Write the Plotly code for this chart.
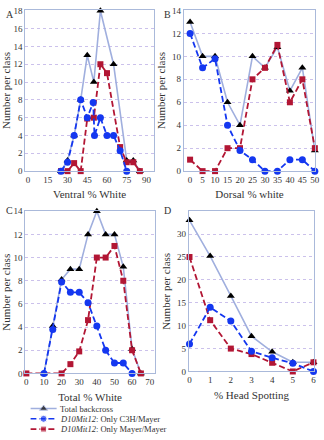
import plotly.graph_objects as go

# ---------------- data ----------------
# Panel A: Ventral % White
a_total_x = [25, 30, 35, 40, 45, 50, 55, 65, 75, 80, 85]
a_total_y = [0, 1.2, 4, 8, 13, 10, 18, 12, 1.2, 1.2, 0]
a_c3h_x = [25, 30, 35, 40, 45, 49.5, 50.5, 55, 60, 65, 70, 75]
a_c3h_y = [0, 1, 4, 8, 6, 7.7, 4, 6, 4, 4, 2.3, 0]
a_may_x = [25, 30, 35, 40, 45, 50, 55, 60, 70, 75, 80, 85]
a_may_y = [0, 0, 0.9, 0, 5.9, 6, 12, 11, 2.7, 1, 1, 0]

# Panel B: Dorsal % white
b_x = [0, 5, 10, 15, 20, 25, 30, 35, 40, 45, 50]
b_total = [13, 10, 10, 6, 4, 10, 9, 10.8, 7, 9, 1.8]
b_c3h = [12, 9, 9.8, 4, 1.8, 1, 0, 0, 1, 1, 0]
b_may = [1, 0, 0, 2, 2, 8, 9, 11, 6, 8, 2]

# Panel C: Total % White
c_total_x = [10, 15, 20, 25, 30, 35, 40, 45, 50, 55, 60, 65]
c_total_y = [0, 4.1, 8.1, 9, 9, 12, 14, 12, 12, 9.2, 2.1, 0]
c_c3h_x = [10, 15, 20, 25, 30, 35, 40, 45, 50, 55, 60]
c_c3h_y = [0, 3.8, 7.9, 7, 7, 6.1, 4.1, 2, 0.9, 0.9, 0]
c_may_x = [0, 20, 25, 30, 35, 40, 45, 50, 55, 60, 65]
c_may_y = [0, 0, 0.8, 1.9, 4.6, 10, 10, 11, 8, 2, 0]

# Panel D: % Head Spotting
d_x = [0, 1, 2, 3, 4, 5, 6]
d_total = [33, 25.2, 16.5, 7.7, 4.3, 2, 2]
d_c3h = [6, 14, 11, 4.4, 3, 1.8, 0]
d_may = [25, 11.2, 5, 3.8, 1.9, 0, 2]

# ticks
a_xticks = [0, 15, 30, 45, 60, 75, 90]
a_yticks = [0, 2, 4, 6, 8, 10, 12, 14, 16, 18]
b_xticks = [0, 5, 10, 15, 20, 25, 30, 35, 40, 45, 50]
b_yticks = [0, 2, 4, 6, 8, 10, 12, 14]
c_xticks = [0, 10, 20, 30, 40, 50, 60, 70]
c_yticks = [0, 2, 4, 6, 8, 10, 12, 14]
d_xticks = [0, 1, 2, 3, 4, 5, 6]
d_yticks = [0, 5, 10, 15, 20, 25, 30]

legend_names = ["Total backcross",
                "<i>D10Mit12</i>: Only C3H/Mayer",
                "<i>D10Mit12</i>: Only Mayer/Mayer"]

# ---------------- styles ----------------
W, H = 324, 440
FONT = "Liberation Serif"
TOTAL_C = "rgb(160,175,222)"
C3H_C = "rgb(20,55,240)"
MAY_C = "rgb(178,22,52)"
BOX_C = "rgb(170,185,218)"
GRID_C = "rgba(175,160,225,0.65)"


def px_x(p):
    return p / W


def px_y(p):
    return 1 - p / H


fig = go.Figure()


def add_panel(n, tx, ty, cx, cy, mx, my):
    xa, ya = f"x{n}", f"y{n}"
    fig.add_trace(go.Scatter(x=tx, y=ty, mode="lines+markers", xaxis=xa, yaxis=ya,
                             line=dict(color=TOTAL_C, width=1.6),
                             marker=dict(symbol="triangle-up", size=7, color="black"),
                             cliponaxis=False, showlegend=False))
    fig.add_trace(go.Scatter(x=mx, y=my, mode="lines+markers", xaxis=xa, yaxis=ya,
                             line=dict(color=MAY_C, width=1.8, dash="6px,3px"),
                             marker=dict(symbol="square", size=6, color=MAY_C),
                             cliponaxis=False, showlegend=False))
    fig.add_trace(go.Scatter(x=cx, y=cy, mode="lines+markers", xaxis=xa, yaxis=ya,
                             line=dict(color=C3H_C, width=1.8, dash="6px,3px"),
                             marker=dict(symbol="circle", size=7, color=C3H_C),
                             cliponaxis=False, showlegend=False))


add_panel(1, a_total_x, a_total_y, a_c3h_x, a_c3h_y, a_may_x, a_may_y)
add_panel(2, b_x, b_total, b_x, b_c3h, b_x, b_may)
add_panel(3, c_total_x, c_total_y, c_c3h_x, c_c3h_y, c_may_x, c_may_y)
add_panel(4, d_x, d_total, d_x, d_c3h, d_x, d_may)

tickfont = dict(family=FONT, size=9, color="#333")
titlefont = dict(family=FONT, size=11, color="#333")


def xaxis(dom, rng, ticks, title, anchor):
    return dict(domain=dom, range=rng, tickvals=ticks, tickfont=tickfont,
                showgrid=False, zeroline=False, showline=True, linecolor=BOX_C,
                linewidth=1.2, mirror=True, anchor=anchor, ticks="",
                title=dict(text=title, font=titlefont, standoff=6))


def yaxis(dom, rng, ticks, anchor):
    return dict(domain=dom, range=rng, tickvals=ticks, tickfont=tickfont,
                showgrid=True, gridcolor=GRID_C, griddash="dot", gridwidth=0.8,
                zeroline=False, showline=True, linecolor=BOX_C, linewidth=1.2,
                mirror=True, anchor=anchor, ticks="",
                title=dict(text="Number per class", font=titlefont, standoff=4))


top_dom = [px_y(170), px_y(5)]
bot_dom_c = [px_y(377), px_y(211)]
bot_dom_d = [px_y(375), px_y(211)]

fig.update_layout(
    xaxis=xaxis([px_x(24), px_x(155)], [-2, 95.5], a_xticks, "Ventral % White", "y"),
    yaxis=yaxis(top_dom, [0, 18.1], a_yticks, "x"),
    xaxis2=xaxis([px_x(186), px_x(320)], [-2.45, 50.1], b_xticks, "Dorsal % white", "y2"),
    yaxis2=yaxis(top_dom, [0, 14.05], b_yticks, "x2"),
    xaxis3=xaxis([px_x(24), px_x(156)], [-0.5, 72.8], c_xticks, "Total % White", "y3"),
    yaxis3=yaxis(bot_dom_c, [0, 14], c_yticks, "x3"),
    xaxis4=xaxis([px_x(191), px_x(319)], [-0.03, 6.03], d_xticks, "% Head Spotting", "y4"),
    yaxis4=yaxis(bot_dom_d, [0, 35], d_yticks, "x4"),
    xaxis5=dict(domain=[px_x(29), px_x(56)], range=[0, 1], visible=False, anchor="y5"),
    yaxis5=dict(domain=[px_y(439.2), px_y(407.7)], range=[3.5, 0.5], visible=False, anchor="x5"),
)

# legend drawn in its own small axis
leg_styles = [
    (TOTAL_C, "solid", "triangle-up", "black", 7),
    (C3H_C, "6px,3px", "circle", C3H_C, 7),
    (MAY_C, "6px,3px", "square", MAY_C, 6),
]
for i, (name, (lc, dash, sym, mc, ms)) in enumerate(zip(legend_names, leg_styles)):
    row = i + 1
    fig.add_trace(go.Scatter(x=[0, 0.5, 1], y=[row, row, row], mode="lines+markers",
                             xaxis="x5", yaxis="y5",
                             line=dict(color=lc, width=1.6, dash=dash),
                             marker=dict(symbol=sym, size=[0, ms, 0], color=mc),
                             cliponaxis=False, showlegend=False, hoverinfo="skip"))
    fig.add_annotation(text=name, xref="paper", yref="y5", x=px_x(57), y=row,
                       xanchor="left", yanchor="middle", showarrow=False,
                       font=dict(family=FONT, size=8.5, color="#333"))

for letter, x, y in [("A", 2, 10), ("B", 164, 10), ("C", 2, 210), ("D", 164, 210)]:
    fig.add_annotation(text=letter, xref="paper", yref="paper", x=px_x(x), y=px_y(y),
                       xanchor="left", yanchor="middle", showarrow=False,
                       font=dict(family=FONT, size=10, color="#333"))

fig.update_layout(width=W, height=H, margin=dict(l=0, r=0, t=0, b=0),
                  paper_bgcolor="white", plot_bgcolor="white", showlegend=False)

fig.write_html("out.html", config={"displayModeBar": False},
               post_script="document.body.style.margin='0';document.body.style.padding='0';")
